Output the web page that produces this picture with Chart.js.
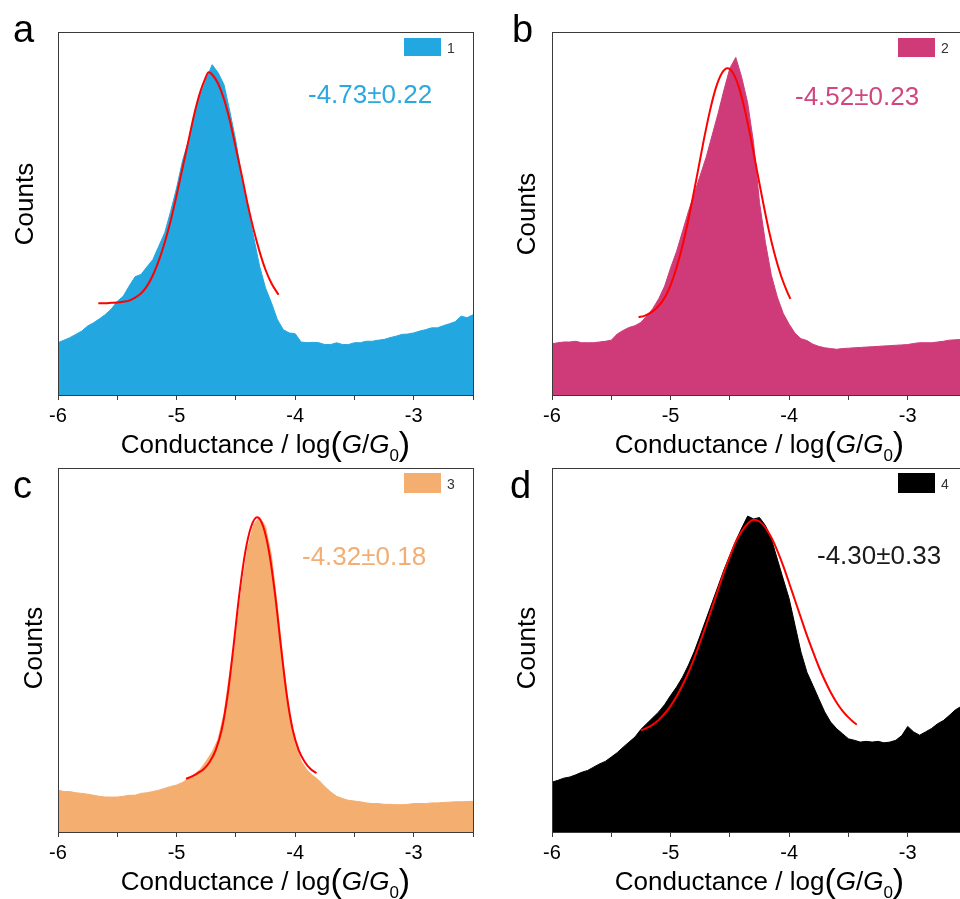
<!DOCTYPE html>
<html>
<head>
<meta charset="utf-8">
<script src="https://cdn.jsdelivr.net/npm/chart.js@4.4.1/dist/chart.umd.min.js"></script>
<style>
  html, body { margin: 0; padding: 0; width: 960px; height: 899px; overflow: hidden; background: #fff; }
  canvas { position: absolute; left: 0; top: 0; }
</style>
</head>
<body>
<canvas id="panelA" width="1000" height="899"></canvas>
<canvas id="panelB" width="1000" height="899"></canvas>
<canvas id="panelC" width="1000" height="899"></canvas>
<canvas id="panelD" width="1000" height="899"></canvas>
<script>
// Histogram bin positions, log(G/G0)
const conductanceBins = [
  -6.00,-5.95,-5.90,-5.85,-5.80,-5.75,-5.70,-5.65,-5.60,-5.55,
  -5.50,-5.45,-5.40,-5.35,-5.30,-5.25,-5.20,-5.15,-5.10,-5.05,
  -5.00,-4.95,-4.90,-4.85,-4.80,-4.75,-4.70,-4.65,-4.60,-4.55,
  -4.50,-4.45,-4.40,-4.35,-4.30,-4.25,-4.20,-4.15,-4.10,-4.05,
  -4.00,-3.95,-3.90,-3.85,-3.80,-3.75,-3.70,-3.65,-3.60,-3.55,
  -3.50,-3.45,-3.40,-3.35,-3.30,-3.25,-3.20,-3.15,-3.10,-3.05,
  -3.00,-2.95,-2.90,-2.85,-2.80,-2.75,-2.70,-2.65,-2.60,-2.55,
  -2.50
];

// Counts per bin (arbitrary units, 100 = top of frame)
const countsA = [
  14.4,15.1,15.8,16.7,17.6,19.0,19.9,21.0,22.2,23.7,
  25.8,27.2,30.0,32.6,33.2,35.3,37.3,41.0,44.7,50.6,
  57.0,64.5,70.0,77.0,82.5,87.0,91.0,88.8,85.5,78.0,
  70.0,60.0,51.5,43.5,35.5,29.5,25.4,20.8,18.0,17.1,
  16.9,14.6,14.4,14.5,14.4,13.9,13.9,14.4,13.9,13.9,
  14.4,14.4,14.8,14.8,15.1,15.3,15.8,16.2,16.7,16.8,
  17.1,17.6,18.0,18.5,18.5,19.1,19.6,20.2,21.7,21.3,
  22.1
];
const countsB = [
  14.1,14.4,14.6,14.6,14.8,14.4,14.4,14.4,14.6,14.8,
  15.1,16.8,17.8,18.6,19.1,20.0,21.8,23.8,26.5,30.0,
  35.0,39.5,45.0,50.5,55.5,60.5,65.5,71.5,77.5,84.0,
  90.0,93.0,87.5,80.5,69.5,53.0,42.0,33.0,27.0,22.5,
  19.5,17.0,15.5,15.0,14.0,13.4,13.0,12.8,12.6,12.8,
  12.9,13.0,13.1,13.2,13.3,13.4,13.5,13.6,13.7,13.8,
  13.9,14.2,14.4,14.4,14.4,14.6,14.8,15.1,15.2,15.3,
  15.4
];
const countsC = [
  11.5,11.1,11.1,10.8,10.6,10.4,10.1,9.8,9.6,9.6,
  9.6,9.8,10.1,10.1,10.6,10.8,11.1,11.5,12.0,12.5,
  12.9,13.6,14.8,15.8,17.2,19.5,22.0,25.5,32.5,44.0,
  54.0,67.0,78.0,84.5,86.5,84.0,76.0,62.0,46.5,33.0,
  24.5,19.5,17.0,15.5,14.2,12.5,11.0,9.8,9.2,8.7,
  8.5,8.3,8.0,7.8,7.8,7.6,7.6,7.5,7.5,7.6,
  7.8,7.8,7.8,8.0,8.0,8.1,8.2,8.3,8.3,8.4,
  8.4
];
const countsD = [
  13.7,14.2,14.8,15.1,15.7,16.4,16.9,17.8,18.7,19.4,
  20.6,21.8,23.3,24.7,26.1,28.2,29.8,31.4,33.0,35.0,
  37.5,39.8,42.5,45.8,49.6,54.0,58.5,63.0,67.5,72.0,
  76.0,80.0,83.5,86.8,86.0,86.4,84.2,80.5,75.0,69.5,
  64.1,56.7,49.4,43.9,40.3,36.6,33.0,30.2,28.4,27.0,
  25.6,25.2,24.7,24.9,24.7,24.9,24.5,24.7,25.2,26.5,
  29.0,27.5,26.6,27.5,28.4,29.7,30.6,32.0,33.5,34.5,
  35.5
];

// Gaussian fit curves
const fitXA = [-5.66,-5.60,-5.55,-5.50,-5.45,-5.40,-5.35,-5.30,-5.25,-5.20,-5.15,-5.10,-5.05,-5.00,-4.95,-4.90,
  -4.85,-4.80,-4.76,-4.73,-4.70,-4.65,-4.60,-4.55,-4.50,-4.45,-4.40,-4.35,-4.30,-4.25,-4.20,-4.14];
const fitYA = [25.3,25.3,25.4,25.5,25.7,26.0,26.8,28.0,30.0,33.0,37.0,42.0,48.0,55.0,62.5,70.0,
  77.5,83.5,87.0,88.9,88.3,85.8,81.5,75.5,68.0,60.5,52.5,45.5,39.5,34.5,30.8,27.6];
const fitXB = [-5.27,-5.22,-5.17,-5.12,-5.07,-5.02,-4.97,-4.92,-4.87,-4.82,-4.77,-4.72,-4.67,-4.62,
  -4.57,-4.52,-4.47,-4.42,-4.37,-4.32,-4.27,-4.22,-4.17,-4.12,-4.07,-4.02,-3.99];
const fitYB = [21.5,21.8,22.6,23.9,25.8,28.7,33.0,38.5,45.2,53.1,61.6,70.2,78.0,84.4,
  88.5,90.0,88.5,84.4,78.0,70.2,61.6,53.1,45.2,38.5,33.0,28.7,26.5];
const fitXC = [-4.92,-4.87,-4.82,-4.77,-4.72,-4.67,-4.62,-4.57,-4.52,-4.47,-4.42,-4.37,-4.32,
  -4.27,-4.22,-4.17,-4.12,-4.07,-4.02,-3.97,-3.92,-3.87,-3.82];
const fitYC = [14.6,15.3,16.2,17.3,19.3,22.5,28.0,37.5,51.0,65.5,77.0,84.0,86.5,
  84.0,77.0,65.5,51.0,37.5,28.0,22.5,19.3,17.3,16.2];
const fitXD = [-5.25,-5.20,-5.15,-5.10,-5.05,-5.00,-4.95,-4.90,-4.85,-4.80,-4.75,-4.70,-4.65,-4.60,
  -4.55,-4.50,-4.45,-4.40,-4.35,-4.30,-4.25,-4.20,-4.15,-4.10,-4.05,-4.00,-3.95,-3.90,-3.85,
  -3.80,-3.75,-3.70,-3.65,-3.60,-3.55,-3.50,-3.45,-3.43];
const fitYD = [27.9,28.6,29.5,30.8,32.5,34.6,37.2,40.3,43.8,47.8,52.2,56.8,61.6,66.5,
  71.3,75.7,79.7,82.6,84.7,85.8,85.3,83.6,80.9,77.3,73.1,68.4,63.6,58.8,54.0,
  49.6,45.4,41.7,38.4,35.6,33.3,31.5,30.0,29.5];

// Peak annotations and legend names
const peakLabels = ['-4.73\u00B10.22', '-4.52\u00B10.23', '-4.32\u00B10.18', '-4.30\u00B10.33'];
const seriesNames = ['1', '2', '3', '4'];
const panelLetters = ['a', 'b', 'c', 'd'];

const FONT = '"Liberation Sans", Arial, Helvetica, sans-serif';
const W = 1000, H = 899;
const X_AXIS_BAND = 40;

const panels = [
  { id: 'panelA', counts: countsA, fitX: fitXA, fitY: fitYA, color: '#23A7E0', labelColor: '#2AA8E0',
    area: { l: 58, t: 32, r: 473, b: 395 }, letter: [13, 42], countsPos: [33, 204],
    peakPos: [308, 103], legendBox: [404, 38, 37, 18], legendText: [447, 53] },
  { id: 'panelB', counts: countsB, fitX: fitXB, fitY: fitYB, color: '#CF3B79', labelColor: '#D0467F',
    area: { l: 552, t: 32, r: 967, b: 395 }, letter: [512, 42], countsPos: [535, 214],
    peakPos: [795, 105], legendBox: [898, 38, 37, 19], legendText: [941, 53] },
  { id: 'panelC', counts: countsC, fitX: fitXC, fitY: fitYC, color: '#F3AE70', labelColor: '#F2AE74',
    area: { l: 58, t: 468, r: 473, b: 832 }, letter: [13, 498], countsPos: [42, 648],
    peakPos: [302, 565], legendBox: [404, 473, 37, 20], legendText: [447, 489] },
  { id: 'panelD', counts: countsD, fitX: fitXD, fitY: fitYD, color: '#000000', labelColor: '#1a1a1a',
    area: { l: 552, t: 468, r: 967, b: 832 }, letter: [510, 498], countsPos: [535, 648],
    peakPos: [817, 564], legendBox: [898, 473, 37, 20], legendText: [941, 489] }
];

// Frame, panel letter, axis titles, peak value and legend
const panelDecor = {
  id: 'panelDecor',
  afterDraw(chart, args, o) {
    const ctx = chart.ctx;
    const a = chart.chartArea;
    ctx.save();
    ctx.strokeStyle = '#3a3a3a';
    ctx.lineWidth = 1;
    ctx.strokeRect(Math.round(a.left) + 0.5, Math.round(a.top) + 0.5,
                   Math.round(a.right - a.left), Math.round(a.bottom - a.top));

    ctx.fillStyle = '#000';
    ctx.textBaseline = 'alphabetic';
    ctx.textAlign = 'left';
    ctx.font = '38px ' + FONT;
    ctx.fillText(o.letter, o.letterPos[0], o.letterPos[1]);

    // y title
    ctx.save();
    ctx.translate(o.countsPos[0], o.countsPos[1]);
    ctx.rotate(-Math.PI / 2);
    ctx.textAlign = 'center';
    ctx.font = '26px ' + FONT;
    ctx.fillText('Counts', 0, 0);
    ctx.restore();

    // x title with italic G and subscript 0
    const parts = [
      { t: 'Conductance / log', f: '26px ' + FONT, dy: 0 },
      { t: '(', f: '34px ' + FONT, dy: 2 },
      { t: 'G', f: 'italic 26px ' + FONT, dy: 0 },
      { t: '/', f: '26px ' + FONT, dy: 0 },
      { t: 'G', f: 'italic 26px ' + FONT, dy: 0 },
      { t: '0', f: '17px ' + FONT, dy: 8 },
      { t: ')', f: '34px ' + FONT, dy: 2 }
    ];
    let total = 0;
    parts.forEach(p => { ctx.font = p.f; p.w = ctx.measureText(p.t).width; total += p.w; });
    let x = (a.left + a.right) / 2 - total / 2;
    const base = a.bottom + 58;
    parts.forEach(p => { ctx.font = p.f; ctx.fillText(p.t, x, base + p.dy); x += p.w; });

    // peak value
    ctx.fillStyle = o.labelColor;
    ctx.font = '26px ' + FONT;
    ctx.fillText(o.peak, o.peakPos[0], o.peakPos[1]);

    // legend
    ctx.fillStyle = o.color;
    const lb = o.legendBox;
    ctx.fillRect(lb[0], lb[1], lb[2], lb[3]);
    ctx.fillStyle = '#333';
    ctx.font = '14px ' + FONT;
    ctx.fillText(o.name, o.legendText[0], o.legendText[1]);
    ctx.restore();
  }
};

panels.forEach((p, i) => {
  const hist = conductanceBins.map((x, k) => ({ x: x, y: p.counts[k] }));
  const fit = p.fitX.map((x, k) => ({ x: x, y: p.fitY[k] }));
  new Chart(document.getElementById(p.id), {
    type: 'line',
    data: {
      datasets: [
        { label: seriesNames[i], data: hist, fill: 'origin', backgroundColor: p.color,
          borderColor: p.color, borderWidth: 1, pointRadius: 0, tension: 0, order: 2 },
        { label: 'fit', data: fit, fill: false, borderColor: '#FF0000', borderWidth: 2,
          pointRadius: 0, cubicInterpolationMode: 'monotone', order: 1 }
      ]
    },
    options: {
      responsive: false,
      animation: false,
      events: [],
      devicePixelRatio: 1,
      layout: { padding: { left: p.area.l, top: p.area.t, right: W - p.area.r,
                           bottom: H - p.area.b - X_AXIS_BAND } },
      plugins: {
        legend: { display: false },
        tooltip: { enabled: false },
        panelDecor: {
          letter: panelLetters[i], letterPos: p.letter, countsPos: p.countsPos,
          peak: peakLabels[i], peakPos: p.peakPos, labelColor: p.labelColor,
          color: p.color, legendBox: p.legendBox, legendText: p.legendText, name: seriesNames[i]
        }
      },
      scales: {
        x: {
          type: 'linear', min: -6, max: -2.5,
          afterFit: s => { s.height = X_AXIS_BAND; },
          border: { display: false },
          grid: { drawOnChartArea: false, drawTicks: true, tickLength: 5, color: '#3a3a3a' },
          ticks: {
            stepSize: 0.5, autoSkip: false, maxRotation: 0, padding: 4, color: '#000',
            font: { family: FONT, size: 20 },
            callback: v => Number.isInteger(v) ? String(v) : ''
          }
        },
        y: { display: false, min: 0, max: 100 }
      }
    },
    plugins: [panelDecor]
  });
});
</script>
</body>
</html>
